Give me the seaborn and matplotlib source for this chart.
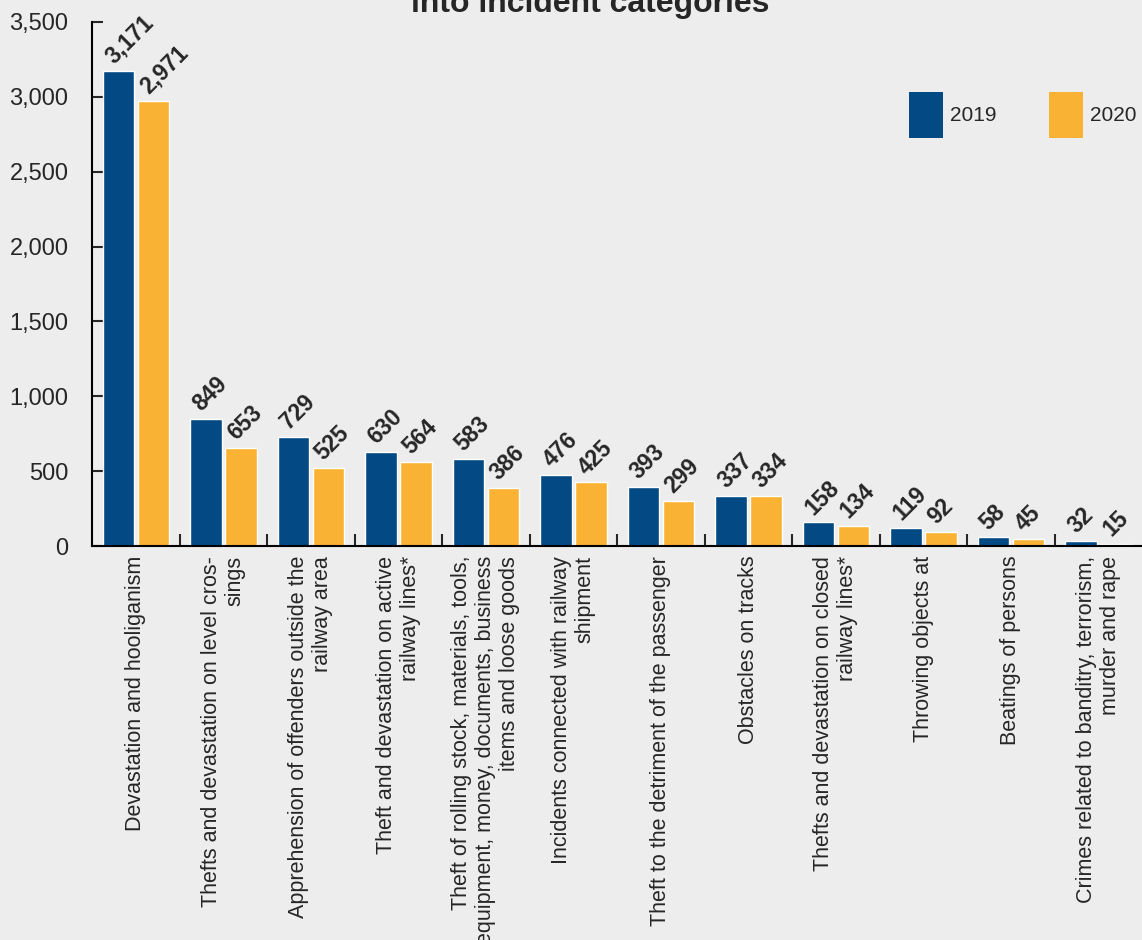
import pandas as pd
import numpy as np
import seaborn as sns
import matplotlib.pyplot as plt
from matplotlib.patches import Patch
from matplotlib.ticker import FuncFormatter, FixedLocator

categories = [
    "Devastation and hooliganism",
    "Thefts and devastation on level cros-\nsings",
    "Apprehension of offenders outside the\nrailway area",
    "Theft and devastation on active\nrailway lines*",
    "Theft of rolling stock, materials, tools,\nequipment, money, documents, business\nitems and loose goods",
    "Incidents connected with railway\nshipment",
    "Theft to the detriment of the passenger",
    "Obstacles on tracks",
    "Thefts and devastation on closed\nrailway lines*",
    "Throwing objects at",
    "Beatings of persons",
    "Crimes related to banditry, terrorism,\nmurder and rape",
]
values_2019 = [3171, 849, 729, 630, 583, 476, 393, 337, 158, 119, 58, 32]
values_2020 = [2971, 653, 525, 564, 386, 425, 299, 334, 134, 92, 45, 15]
years = ["2019", "2020"]
colors = ["#034A84", "#F9B233"]
bg = "#EDEDED"

df = pd.DataFrame({
    "category": categories * 2,
    "value": values_2019 + values_2020,
    "year": [years[0]] * len(categories) + [years[1]] * len(categories),
})

sns.set_style("white")
plt.rcParams["font.family"] = ["Liberation Sans", "DejaVu Sans"]

fig = plt.figure(figsize=(11.42, 9.40), dpi=100, facecolor=bg)
ax = fig.add_axes([0.0806, 0.419, 0.9194, 0.5577])
ax.set_facecolor(bg)

sns.barplot(data=df, x="category", y="value", hue="year", order=categories,
            hue_order=years, palette=colors, width=0.8, gap=0.1,
            saturation=1, legend=False, ax=ax)

# value labels, rotated and bold
for cont in ax.containers:
    for bar in cont:
        h = bar.get_height()
        ax.annotate(f"{int(h):,}", xy=(bar.get_x(), h), xytext=(8, 5),
                    textcoords="offset points", ha="left", va="baseline",
                    rotation=45, rotation_mode="anchor",
                    fontsize=16.5, fontweight="bold")

ax.set_xlim(-0.5, len(categories) - 0.5)
ax.set_ylim(0, 3500)
ax.set_yticks(np.arange(0, 3501, 500))
ax.yaxis.set_major_formatter(FuncFormatter(lambda v, p: f"{int(v):,}"))
ax.tick_params(axis="y", direction="in", length=8, width=1.5, pad=17,
               labelsize=17, left=True)

ax.set_xticks(range(len(categories)))
ax.set_xticklabels(categories, rotation=90, ha="center", va="top",
                   multialignment="right", fontsize=15.5, linespacing=1.2)
ax.tick_params(axis="x", which="major", length=0, pad=7)
ax.xaxis.set_minor_locator(FixedLocator(np.arange(0.5, len(categories) - 1, 1)))
ax.tick_params(axis="x", which="minor", direction="in", length=9, width=1.5,
               bottom=True)

ax.set_xlabel("")
ax.set_ylabel("")
for s in ["top", "right"]:
    ax.spines[s].set_visible(False)
for s in ["left", "bottom"]:
    ax.spines[s].set_linewidth(1.5)
    ax.spines[s].set_color("black")

handles = [Patch(facecolor=c, edgecolor="none") for c in colors]
ax.legend(handles, years, loc="center right", bbox_to_anchor=(0.995, 0.8225),
          ncol=2, frameon=False, fontsize=15, handlelength=1.63,
          handleheight=3.0, handletextpad=0.35, columnspacing=2.5,
          borderpad=0, borderaxespad=0)

fig.text(0.517, 1 - 12 / 940, "into incident categories", ha="center",
         va="baseline", fontsize=23, fontweight="bold")

fig.savefig("out.png", dpi=100, facecolor=bg)
